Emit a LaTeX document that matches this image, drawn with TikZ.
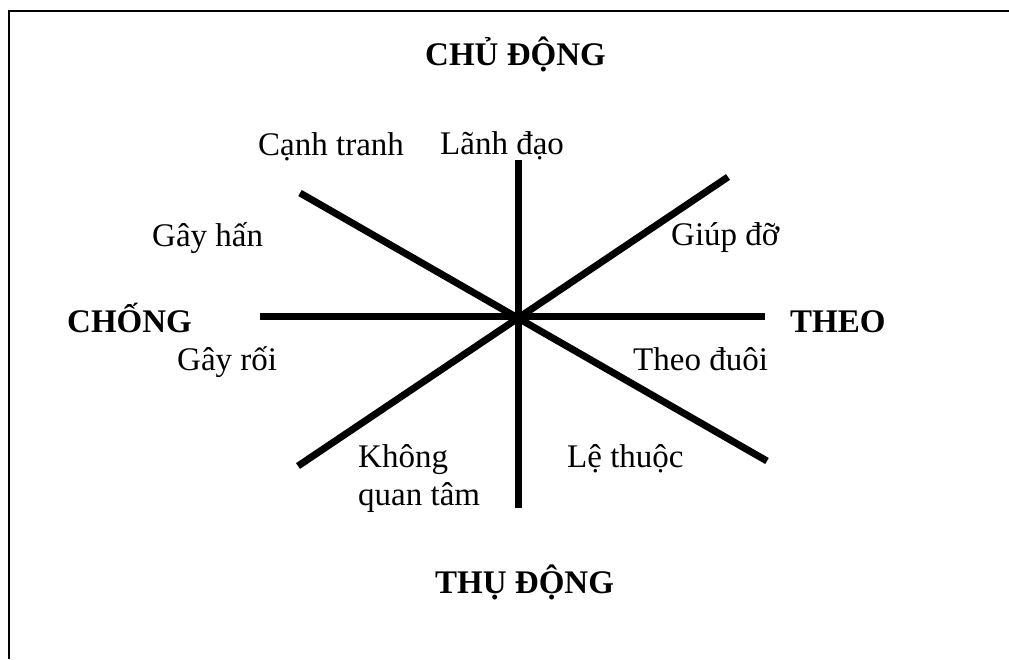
\documentclass[tikz,border=0pt]{standalone}
\usepackage{fontspec}
\setmainfont{Liberation Serif}
\begin{document}
\begin{tikzpicture}[x=1pt,y=-1pt,
  axis/.style={line width=7pt,black},
  frameline/.style={line width=2pt,black},
  lbl/.style={inner sep=0pt,anchor=base west,font=\fontsize{33}{38}\selectfont},
  pole/.style={inner sep=0pt,anchor=base west,font=\fontsize{33}{38}\selectfont\bfseries}]
\useasboundingbox (0,0) rectangle (1009,659);
% frame (only top and left edges visible)
\coordinate (fTL) at (9,11);
\coordinate (fTR) at (1009,11);
\coordinate (fBL) at (9,659);
\draw[frameline] (fTR) -- (fTL) -- (fBL);
% axes
\coordinate (vT) at (518,160);
\coordinate (vB) at (518,508);
\coordinate (hL) at (260,316);
\coordinate (hR) at (765,316);
\coordinate (d1a) at (300,193);
\coordinate (d1b) at (767,461);
\coordinate (d2a) at (298,466);
\coordinate (d2b) at (728,177);
\draw[axis] (vT) -- (vB);
\draw[axis] (hL) -- (hR);
\draw[axis] (d1a) -- (d1b);
\draw[axis] (d2a) -- (d2b);
% poles
\node[pole] (top) at (425,65) {CHỦ ĐỘNG};
\node[pole] (bot) at (435,593) {THỤ ĐỘNG};
\node[pole] (left) at (67,332) {CHỐNG};
\node[pole] (right) at (790,332) {THEO};
% labels
\node[lbl] (canh) at (258,155) {Cạnh tranh};
\node[lbl] (lanh) at (440,154) {Lãnh đạo};
\node[lbl] (gayhan) at (152,246) {Gây hấn};
\node[lbl] (giup) at (671,245) {Giúp đỡ};
\node[lbl] (gayroi) at (177,370) {Gây rối};
\node[lbl] (theod) at (633,370) {Theo đuôi};
\node[lbl,align=left] (khong) at (358,505) {Không\\quan tâm};
\node[lbl] (le) at (567,467) {Lệ thuộc};
\end{tikzpicture}
\end{document}
